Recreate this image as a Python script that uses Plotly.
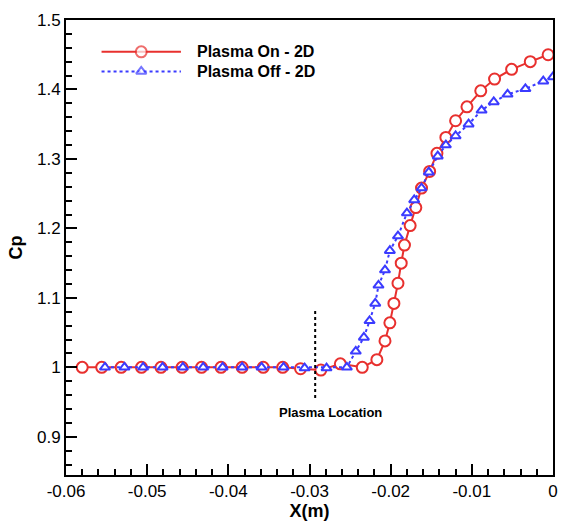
import plotly.graph_objects as go

# Pressure coefficient along the wall, plasma actuator on/off (2D runs)
x_on = [-0.0580, -0.0556, -0.0532, -0.0507, -0.0483, -0.0457, -0.0433, -0.0409,
        -0.0383, -0.0357, -0.0333, -0.0311, -0.0286, -0.0262, -0.0235, -0.0217,
        -0.0207, -0.0201, -0.0196, -0.0191, -0.0187, -0.0183, -0.0176, -0.0169,
        -0.0162, -0.0152, -0.0143, -0.0132, -0.0120, -0.0106, -0.0089, -0.0072,
        -0.0051, -0.0028, -0.0006]
cp_on = [1.000, 1.000, 1.000, 1.000, 1.000, 1.000, 1.000, 1.000,
         1.000, 1.000, 1.000, 0.998, 0.996, 1.005, 1.000, 1.011,
         1.038, 1.064, 1.092, 1.121, 1.150, 1.176, 1.204, 1.230,
         1.258, 1.282, 1.308, 1.331, 1.355, 1.375, 1.398, 1.415,
         1.429, 1.440, 1.450]

x_off = [-0.0552, -0.0528, -0.0505, -0.0481, -0.0456, -0.0431, -0.0407, -0.0383,
         -0.0359, -0.0332, -0.0306, -0.0279, -0.0254, -0.0243, -0.0233, -0.0226,
         -0.0219, -0.0215, -0.0207, -0.0201, -0.0191, -0.0180, -0.0171, -0.0162,
         -0.0153, -0.0142, -0.0132, -0.0120, -0.0104, -0.0088, -0.0073, -0.0056,
         -0.0034, -0.0012, 0.0000]
cp_off = [1.000, 1.000, 1.000, 1.000, 1.000, 1.000, 1.000, 1.000,
          1.000, 1.000, 0.999, 0.999, 1.000, 1.023, 1.043, 1.067,
          1.092, 1.118, 1.140, 1.168, 1.189, 1.222, 1.241, 1.258,
          1.281, 1.304, 1.320, 1.333, 1.350, 1.370, 1.382, 1.393,
          1.401, 1.412, 1.418]

# Actuator location marker
plasma_x = -0.0293
plasma_span = [0.956, 1.083]
plasma_label = "Plasma Location"
plasma_label_pos = (-0.0274, 0.9345)

series_names = ["Plasma On - 2D", "Plasma Off - 2D"]

x_ticks = [-0.06, -0.05, -0.04, -0.03, -0.02, -0.01, 0.0]
x_tick_labels = ["-0.06", "-0.05", "-0.04", "-0.03", "-0.02", "-0.01", "0"]
y_ticks = [0.9, 1.0, 1.1, 1.2, 1.3, 1.4, 1.5]
y_tick_labels = ["0.9", "1", "1.1", "1.2", "1.3", "1.4", "1.5"]

RED = "#e8302e"
BLUE = "#3b3bff"
FONT = "Arial, Liberation Sans, sans-serif"

fig = go.Figure()

fig.add_trace(go.Scatter(
    x=x_on, y=cp_on, mode="lines+markers", name=series_names[0], showlegend=False,
    line=dict(color=RED, width=2),
    marker=dict(symbol="circle", size=11, color="white", line=dict(color=RED, width=2)),
))
fig.add_trace(go.Scatter(
    x=x_off, y=cp_off, mode="lines+markers", name=series_names[1], showlegend=False,
    line=dict(color=BLUE, width=2, dash="dot"),
    marker=dict(symbol="triangle-up", size=9, color="white", line=dict(color=BLUE, width=2)),
))
fig.add_trace(go.Scatter(
    x=[plasma_x, plasma_x], y=plasma_span, mode="lines", showlegend=False,
    line=dict(color="black", width=2, dash="dot"), hoverinfo="skip",
))

# Legend samples on a hidden overlay axis spanning the plot area
leg_x = [0.073, 0.1545, 0.236]
leg_rows = [0.930, 0.887]
fig.add_trace(go.Scatter(
    x=leg_x, y=[leg_rows[0]] * 3, xaxis="x2", yaxis="y2", mode="lines+markers",
    showlegend=False, hoverinfo="skip",
    line=dict(color=RED, width=2),
    marker=dict(symbol="circle", size=[0, 11, 0], color="white", line=dict(color=RED, width=2)),
))
fig.add_trace(go.Scatter(
    x=leg_x, y=[leg_rows[1]] * 3, xaxis="x2", yaxis="y2", mode="lines+markers",
    showlegend=False, hoverinfo="skip",
    line=dict(color=BLUE, width=2, dash="dot"),
    marker=dict(symbol="triangle-up", size=[0, 9, 0], color="white", line=dict(color=BLUE, width=2)),
))

annotations = []
for name, row in zip(series_names, leg_rows):
    annotations.append(dict(
        x=0.264, y=row, xref="x2", yref="y2", text=name, showarrow=False,
        xanchor="left", yanchor="middle",
        font=dict(family=FONT, size=16, color="black", weight="bold"),
    ))
annotations.append(dict(
    x=plasma_label_pos[0], y=plasma_label_pos[1], xref="x", yref="y",
    text=plasma_label, showarrow=False, xanchor="center", yanchor="middle",
    font=dict(family=FONT, size=13, color="black", weight="bold"),
))

axis_common = dict(
    showgrid=False, zeroline=False, showline=True, linecolor="black", linewidth=2,
    mirror=True, ticks="inside", ticklen=11, tickwidth=2, tickcolor="black",
    tickfont=dict(family=FONT, size=17, color="black"),
)

fig.update_layout(
    width=562, height=522,
    margin=dict(l=66, r=4, t=20, b=43),
    paper_bgcolor="white", plot_bgcolor="white",
    xaxis=dict(
        range=[-0.06, 0.0], tickvals=x_ticks, ticktext=x_tick_labels,
        minor=dict(dtick=0.002, tick0=-0.06, ticks="inside", ticklen=6,
                   tickwidth=1.5, tickcolor="black", showgrid=False),
        title=dict(text="X(m)", standoff=4,
                   font=dict(family=FONT, size=18, color="black", weight="bold")),
        **axis_common,
    ),
    yaxis=dict(
        range=[0.845, 1.5], tickvals=y_ticks, ticktext=y_tick_labels,
        minor=dict(dtick=0.02, tick0=0.9, ticks="inside", ticklen=6,
                   tickwidth=1.5, tickcolor="black", showgrid=False),
        title=dict(text="Cp", standoff=10,
                   font=dict(family=FONT, size=18, color="black", weight="bold")),
        **axis_common,
    ),
    xaxis2=dict(overlaying="x", range=[0, 1], visible=False, fixedrange=True),
    yaxis2=dict(overlaying="y", range=[0, 1], visible=False, fixedrange=True),
    annotations=annotations,
    showlegend=False,
)

fig.write_html("out.html")
